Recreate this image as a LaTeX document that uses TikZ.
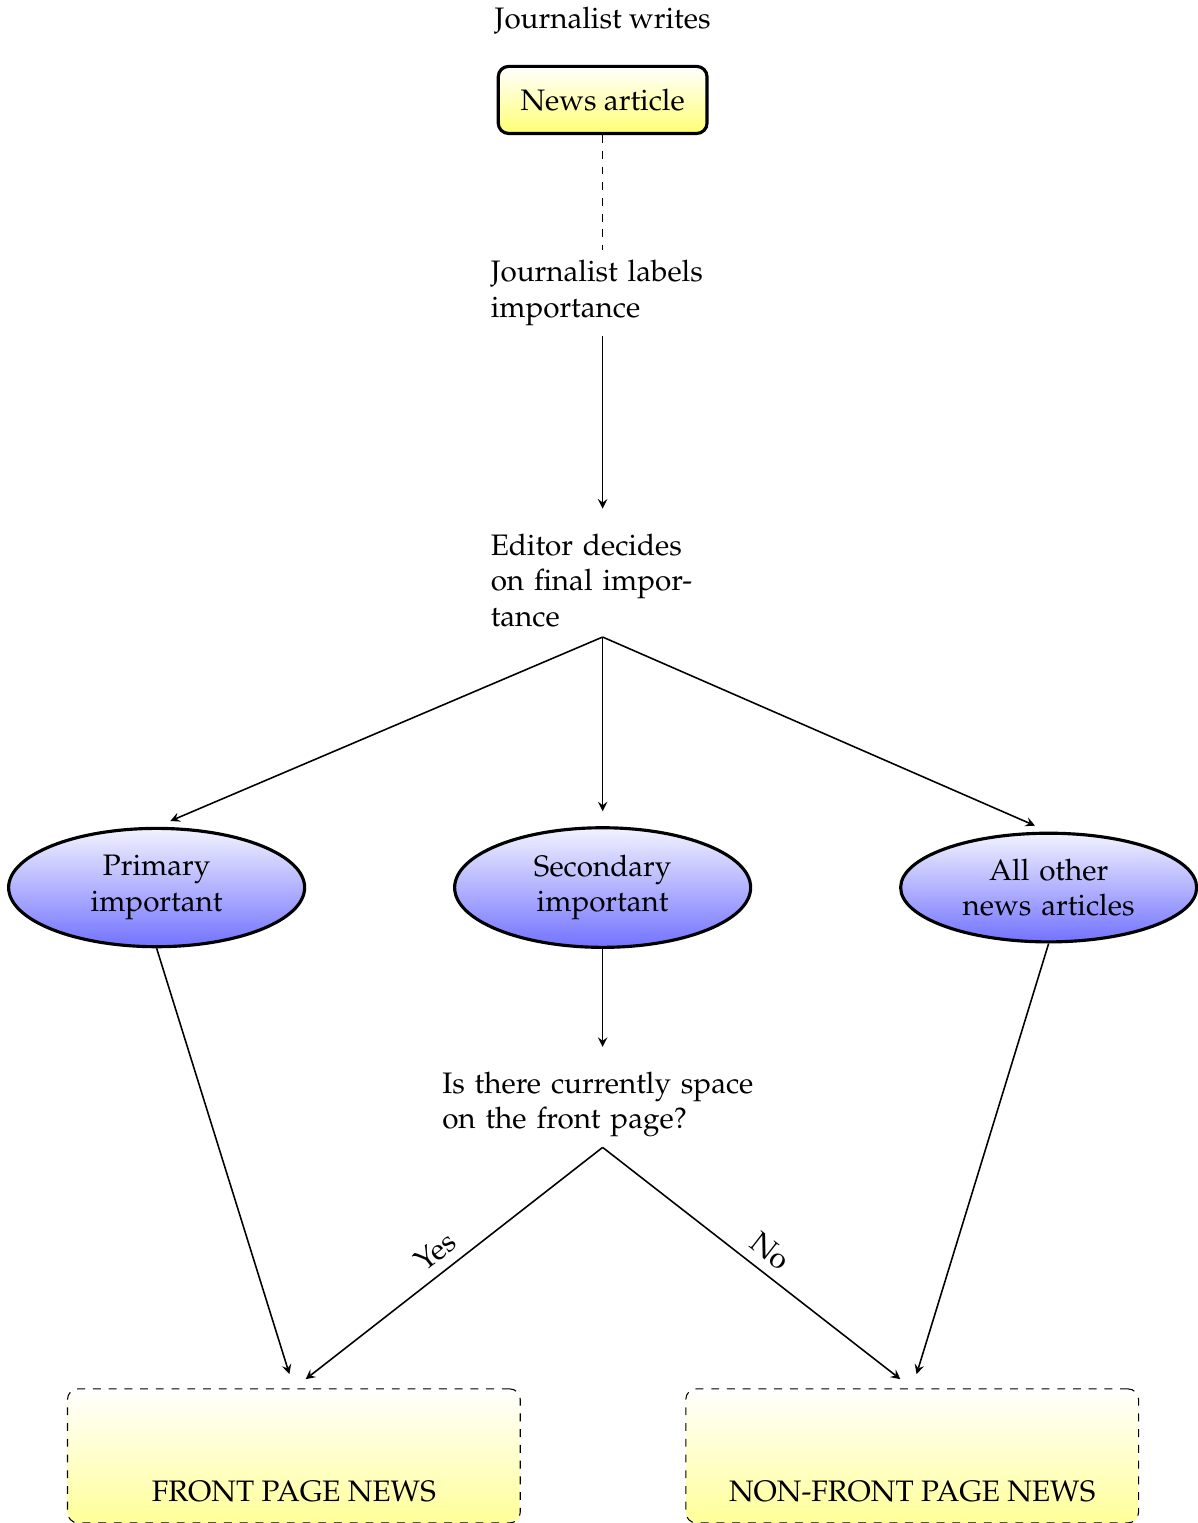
\documentclass[tikz,border=0pt,11pt]{standalone}
\usepackage[T1]{fontenc}
\usepackage{mathpazo}
\usepackage{tikz}
\usetikzlibrary{shapes.geometric,arrows}

\tikzset{
  article/.style={rectangle, draw, very thick, rounded corners=4pt, top color=white, bottom color=yellow!55, minimum width=2.8cm, minimum height=0.9cm},
  stage/.style={text width=3cm},
  importance/.style={ellipse, draw, very thick, top color=blue!5, bottom color=blue!55, text width=2.55cm, align=center},
  outcome/.style={rectangle, draw, dashed, rounded corners=4pt, top color=white, bottom color=yellow!40, minimum width=6.07cm, text height=1.38cm, text depth=0.16cm},
  flow/.style={-stealth, semithick, shorten >=0.2cm}
}

\begin{document}
\begin{tikzpicture}[font=\fontsize{11.3}{13.6}\selectfont]
    \useasboundingbox (0,0) rectangle (16.05,-20.42);
    % Nodes
    \node (writes) at (8.08,-0.28) {Journalist writes};
    \node[article] (news) at (8.08,-1.34) {News article};
    \node[stage] (labels) at (8.08,-3.93) {Journalist labels importance};
    \node[stage] (editor) at (8.08,-7.78) {Editor decides on final importance};
    \node[importance] (primary) at (2.10,-11.90) {Primary\\ important};
    \node[importance] (secondary) at (8.08,-11.90) {Secondary\\ important};
    \node[importance] (other) at (14.06,-11.90) {All other\\ news articles};
    \node[stage, text width=4.3cm] (space) at (8.08,-14.81) {Is there currently space on the front page?};
    \node[outcome] (front) at (3.94,-19.52) {FRONT PAGE NEWS};
    \node[outcome] (nonfront) at (12.23,-19.52) {NON-FRONT PAGE NEWS};
    % Edges
    \draw[dashed] (news) -- (labels);
    \draw[flow] (labels) -- (editor);
    \draw[flow] (editor.south) -- (primary.north);
    \draw[flow] (editor.south) -- (secondary.north);
    \draw[flow] (editor.south) -- (other.north);
    \draw[flow] (secondary) -- (space);
    \draw[flow] (primary.south) -- (front.north);
    \draw[flow] (other.south) -- (nonfront.north);
    \draw[flow] (space.south) -- node[sloped, above, pos=0.5] {Yes} (front.north);
    \draw[flow] (space.south) -- node[sloped, above, pos=0.5] {No} (nonfront.north);
\end{tikzpicture}
\end{document}
